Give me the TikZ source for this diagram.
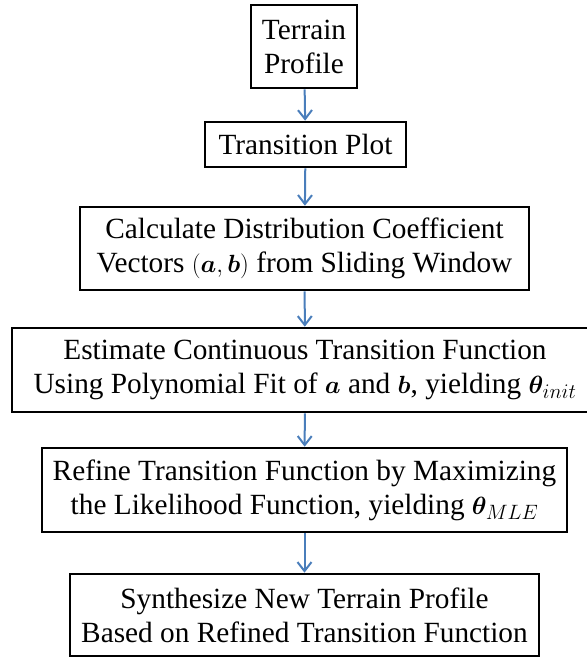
\documentclass[tikz,border=0pt]{standalone}
\usepackage{fontspec}
\usepackage{bm}
\setmainfont{Liberation Serif}
\usetikzlibrary{arrows.meta}
\definecolor{flowblue}{RGB}{74,126,187}
\tikzset{
  stepbox/.style={draw=black, line width=2.6pt, align=center, inner sep=0pt,
    font=\fontsize{29.3}{34}\selectfont},
  flow/.style={draw=flowblue, line width=2pt,
    -{Straight Barb[length=9pt,width=14pt,line width=2pt]}}
}
\begin{document}
\begin{tikzpicture}[x=1pt,y=1pt]
  \path[use as bounding box] (0,0) rectangle (587,-657);
  \node[stepbox, minimum width=106pt, minimum height=83pt] (b1) at (304,-46.5)
    {Terrain\\Profile};
  \node[stepbox, minimum width=201pt, minimum height=45pt] (b2) at (305.5,-144.5)
    {Transition Plot};
  \node[stepbox, minimum width=449pt, minimum height=83pt] (b3) at (304.5,-248.5)
    {Calculate Distribution Coefficient\\Vectors $(\bm{a},\bm{b})$ from Sliding Window};
  \node[stepbox, minimum width=586pt, minimum height=84pt] (b4) at (305,-370)
    {Estimate Continuous Transition Function\\Using Polynomial Fit of $\bm{a}$ and $\bm{b}$, yielding $\bm{\theta}_{init}$};
  \node[stepbox, minimum width=525pt, minimum height=84pt] (b5) at (304.5,-490)
    {Refine Transition Function by Maximizing\\the Likelihood Function, yielding $\bm{\theta}_{MLE}$};
  \node[stepbox, minimum width=469pt, minimum height=82pt] (b6) at (304.5,-615)
    {Synthesize New Terrain Profile\\Based on Refined Transition Function};
  \draw[flow] (b1) -- (b2);
  \draw[flow] (b2) -- (b3);
  \draw[flow] (b3) -- (b4);
  \draw[flow] (b4) -- (b5);
  \draw[flow] (b5) -- (b6);
\end{tikzpicture}
\end{document}
